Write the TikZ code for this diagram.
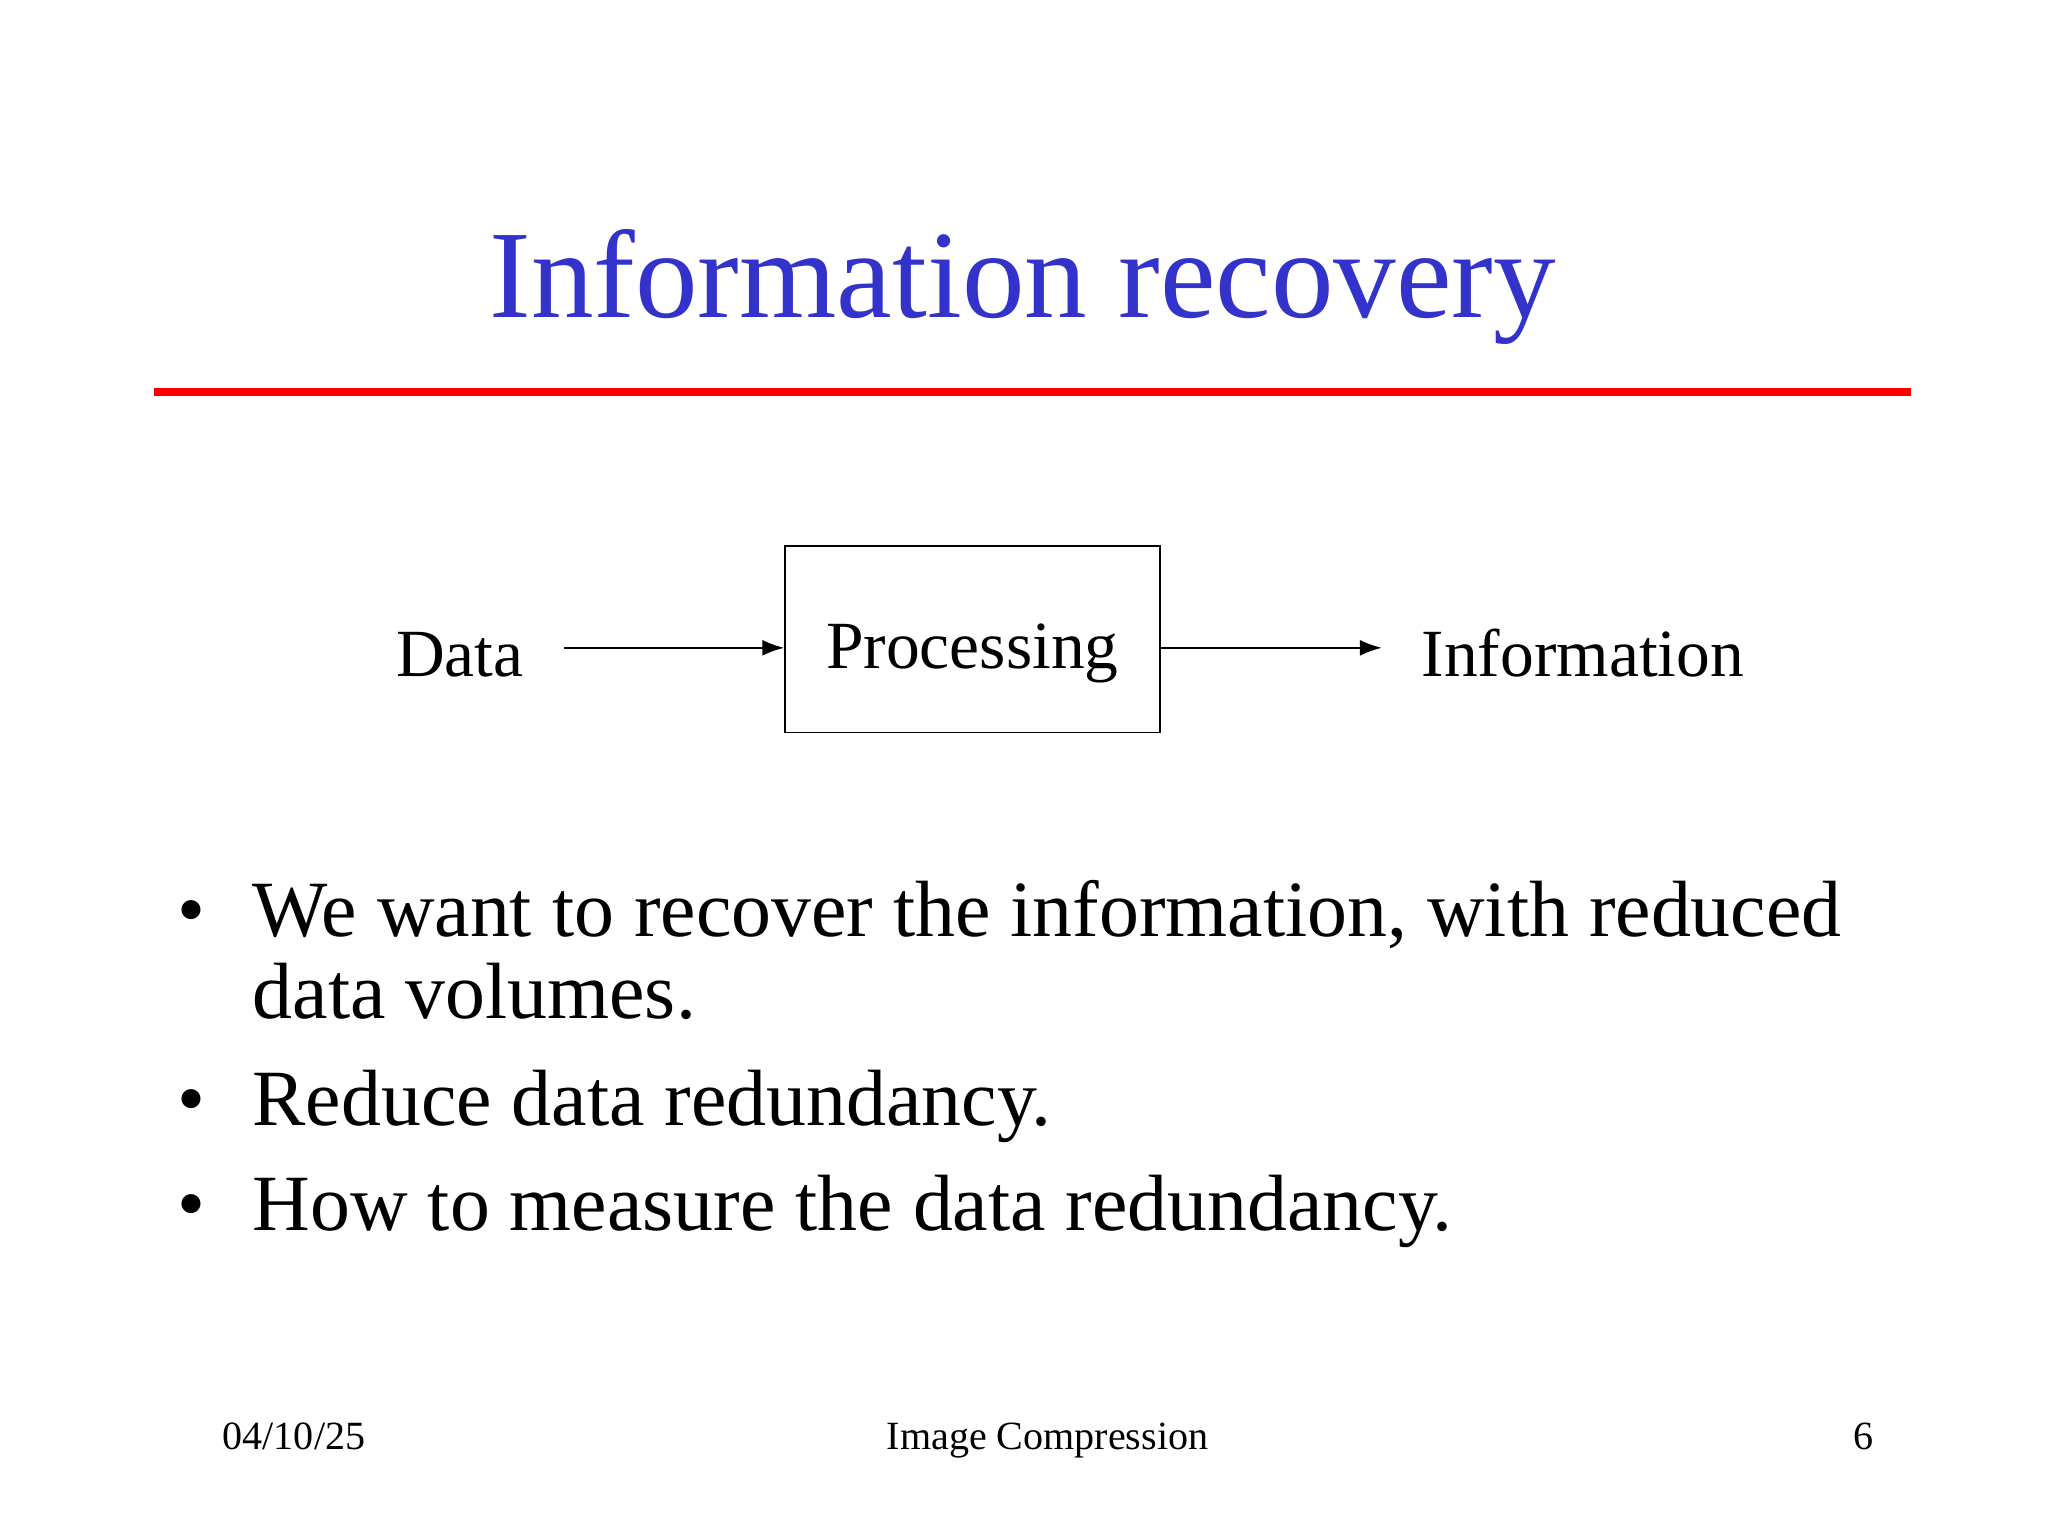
\documentclass[tikz,border=0pt]{standalone}
\usepackage{fontspec}
\setmainfont{Liberation Serif}
\usetikzlibrary{arrows.meta, positioning}
\definecolor{titleblue}{RGB}{51, 51, 204}
\begin{document}
\begin{tikzpicture}[
    x=0.01306cm, y=-0.01306cm,
    label/.style={anchor=base, inner sep=0pt, font=\fontsize{19.2}{23}\selectfont},
    bulletline/.style={anchor=base west, inner sep=0pt, font=\fontsize{22.7}{27}\selectfont},
    footer/.style={anchor=base, inner sep=0pt, font=\fontsize{11.4}{13}\selectfont},
    arrow/.style={-{Latex[length=2.2mm, width=1.6mm]}, semithick}
]
\useasboundingbox (0,0) rectangle (1568,1176);

% Title
\node[anchor=base, inner sep=0pt, text=titleblue, font=\fontsize{35.6}{40}\selectfont] (title) at (783,243) {Information recovery};
\draw[red, line width=0.85mm] (118,300) -- (1463,300);

% Diagram
\node[draw, minimum width=287*0.01306cm, minimum height=143*0.01306cm, inner sep=0pt] (proc) at (744.5,489.5) {};
\node[label] (proctext) at (744.5,512) {Processing};
\node[label] (data) at (352,518) {Data};
\node[label, anchor=base west] (info) at (1088,518) {Information};
\coordinate (din) at (432,496);
\coordinate (dout) at (1058,496);
\draw[arrow] (din) -- (proc.west |- din);
\draw[arrow] (proc.east |- dout) -- (dout);

% Bullets
\node[bulletline] (b1) at (135,717) {•};
\node[bulletline] (t1) at (193,717) {We want to recover the information, with reduced};
\node[bulletline] (t1b) at (193,780) {data volumes.};
\node[bulletline] (b2) at (135,862) {•};
\node[bulletline] (t2) at (193,862) {Reduce data redundancy.};
\node[bulletline] (b3) at (135,942) {•};
\node[bulletline] (t3) at (193,942) {How to measure the data redundancy.};

% Footer
\node[footer, anchor=base west] (date) at (170,1110) {04/10/25};
\node[footer] (course) at (802,1110) {Image Compression};
\node[footer, anchor=base east] (page) at (1435,1110) {6};
\end{tikzpicture}
\end{document}
